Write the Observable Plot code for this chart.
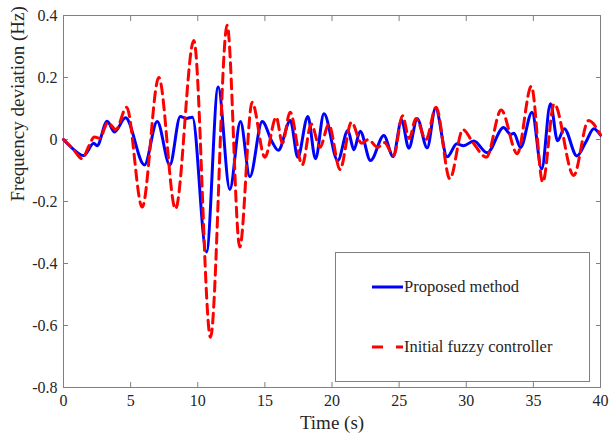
<!DOCTYPE html>
<html><head><meta charset="utf-8">
<script src="https://cdn.jsdelivr.net/npm/d3@7"></script>
<script src="https://cdn.jsdelivr.net/npm/@observablehq/plot@0.6"></script>
<style>body{margin:0;background:#fff}#chart{width:609px;height:441px}</style>
</head><body><div id="chart"></div>
<script>
// Time axis ticks and value ticks
const xTicks = [0, 5, 10, 15, 20, 25, 30, 35, 40];
const yTicks = [-0.8, -0.6, -0.4, -0.2, 0, 0.2, 0.4];

// Series names
const seriesNames = ["Proposed method", "Initial fuzzy controller"];

// Proposed method (blue solid)
const proposedT = [0, 0.7, 1.5, 2.26, 2.5, 3.25, 3.8, 4.62, 6.03, 6.98, 7.92, 8.7, 9.15, 9.6, 10.65, 11.52, 12.39, 13.18, 13.88, 14.8, 15.55, 16.0, 16.9, 17.45, 18.2, 18.77, 19.4, 20.43, 21.18, 21.63, 22.1, 22.87, 23.86, 24.55, 25.18, 25.72, 26.35, 27.09, 27.71, 28.58, 29.3, 29.8, 30.56, 31.56, 32.78, 33.3, 33.55, 34.04, 34.9, 35.62, 36.27, 36.8, 37.3, 38.24, 38.9, 39.5, 40];
const proposedV = [0, -0.03, -0.052, -0.012, -0.02, 0.059, 0.024, 0.07, -0.082, 0.058, -0.082, 0.074, 0.068, 0.072, -0.363, 0.169, -0.161, 0.058, -0.12, 0.058, -0.009, -0.035, 0.061, -0.057, 0.074, -0.062, 0.083, -0.068, 0.029, -0.033, 0.027, -0.068, 0.013, -0.055, 0.063, -0.028, 0.067, -0.027, 0.101, -0.056, -0.014, -0.02, -0.005, -0.043, 0.039, 0.017, 0.02, -0.026, 0.088, -0.095, 0.115, -0.004, 0.035, -0.053, -0.009, 0.035, 0.014];

// Initial fuzzy controller (red dashed)
const initialT = [0, 0.7, 1.39, 1.9, 2.3, 2.7, 3.3, 3.9, 4.7, 5.86, 7.1, 8.34, 9.71, 10.95, 12.19, 13.13, 14.05, 15.0, 15.85, 16.3, 16.88, 17.78, 18.45, 19.1, 19.76, 20.6, 21.45, 22.2, 22.7, 23.4, 23.9, 24.6, 25.25, 25.75, 26.25, 27.0, 27.75, 28.78, 29.75, 30.5, 31.5, 32.6, 33.8, 34.85, 35.7, 36.55, 38.0, 39.1, 40];
const initialV = [0, -0.03, -0.062, -0.02, 0.008, 0.004, 0.055, 0.032, 0.104, -0.218, 0.2, -0.224, 0.319, -0.638, 0.368, -0.347, 0.12, -0.057, 0.072, -0.012, 0.088, -0.082, 0.05, -0.025, 0.048, -0.097, 0.056, -0.012, 0.0, -0.025, -0.01, -0.052, 0.077, 0.003, 0.068, 0.0, 0.104, -0.127, 0.032, -0.01, -0.057, 0.095, -0.046, 0.172, -0.138, 0.115, -0.116, 0.061, 0.015];

const proposed = proposedT.map((t, i) => ({t, v: proposedV[i]}));
const initial = initialT.map((t, i) => ({t, v: initialV[i]}));

const blue = "#0000ff", red = "#ff0000", axisGray = "#808080", ink = "#262626";
const fmt = d => d === 0 ? "0" : d.toFixed(1);
const blank = () => "";

const svg = Plot.plot({
  width: 609, height: 441,
  marginLeft: 63, marginRight: 9, marginTop: 15, marginBottom: 54,
  style: {fontFamily: "'Liberation Serif', 'Times New Roman', serif", fontSize: "16px", color: ink, background: "#fff"},
  x: {domain: [0, 40]},
  y: {domain: [-0.8, 0.4]},
  marks: [
    Plot.frame({stroke: axisGray}),
    Plot.axisX(xTicks, {anchor: "bottom", tickSize: -5, tickPadding: 12, stroke: axisGray, tickFormat: d => String(d), label: null}),
    Plot.axisX(xTicks, {anchor: "top", tickSize: -5, stroke: axisGray, tickFormat: blank, label: null}),
    Plot.axisY(yTicks, {anchor: "left", tickSize: -5, tickPadding: 11, stroke: axisGray, tickFormat: fmt, label: null}),
    Plot.axisY(yTicks, {anchor: "right", tickSize: -5, stroke: axisGray, tickFormat: blank, label: null}),
    Plot.line(proposed, {x: "t", y: "v", stroke: blue, strokeWidth: 3, curve: "monotone-x"}),
    Plot.line(initial, {x: "t", y: "v", stroke: red, strokeWidth: 3, strokeDasharray: "10,6", curve: "monotone-x"}),
    Plot.text(["Time (s)"], {frameAnchor: "bottom", dy: 41, fontSize: 19, fill: ink}),
    Plot.text(["Frequency deviation (Hz)"], {frameAnchor: "left", dx: -46, rotate: -90, fontSize: 19, fill: ink})
  ]
});

// In-plot legend box
const lg = d3.select(svg).append("g")
  .attr("font-family", "'Liberation Serif', serif").attr("font-size", 16.5)
  .attr("fill", ink).attr("text-anchor", "start");
lg.append("rect").attr("x", 335.5).attr("y", 252.5).attr("width", 254).attr("height", 129)
  .attr("fill", "#fff").attr("stroke", axisGray);
const items = [{name: seriesNames[0], color: blue, dash: null, y: 287}, {name: seriesNames[1], color: red, dash: "11,13", y: 347}];
items.forEach(it => {
  lg.append("line").attr("x1", 372).attr("x2", 403).attr("y1", it.y).attr("y2", it.y)
    .attr("stroke", it.color).attr("stroke-width", 3).attr("stroke-dasharray", it.dash);
  lg.append("text").attr("x", 404).attr("y", it.y).attr("dy", "0.32em")
    .attr("text-anchor", "start").text(it.name);
});

document.getElementById("chart").appendChild(svg);
</script>
</body></html>
